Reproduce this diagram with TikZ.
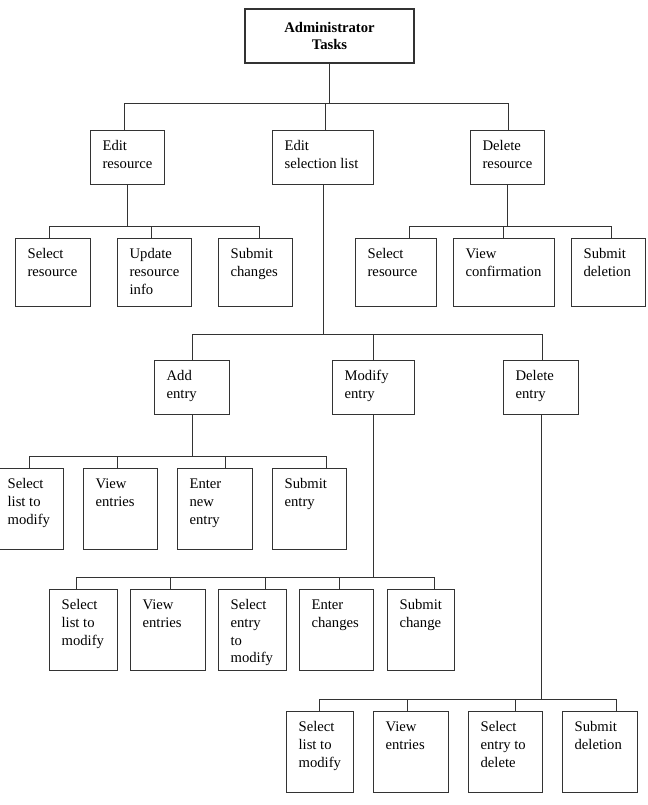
\documentclass[tikz,border=0pt]{standalone}
\usepackage{fontspec}
\setmainfont{Liberation Serif}
\usetikzlibrary{calc}

% box text: width and height in pixels, text set from the top left
\newcommand{\tasktext}[3]{\parbox[t][\dimexpr #2pt*3/4-12pt\relax][t]{\dimexpr #1pt*3/4-18pt\relax}{\raggedright\strut #3}}

\begin{document}
\begin{tikzpicture}[x=0.75pt, y=-0.75pt,
  task/.style={draw=black!80, line width=0.9pt, anchor=north west, inner xsep=9pt, inner ysep=6pt, font=\fontsize{11}{13.2}\selectfont},
  link/.style={draw=black!80, line width=0.9pt}]
  \useasboundingbox (0,0) rectangle (648,805);
  % Top
  \node[task, anchor=center, align=center, inner sep=0pt, minimum width=126.75pt, minimum height=40.5pt,
        font=\fontsize{11}{13.2}\selectfont\bfseries] (admin) at (329.5,36) {Administrator\\Tasks};
  % Level 1
  \node[task] (edres) at (90,130) {\tasktext{74}{54}{Edit\\resource}};
  \node[task] (edsel) at (272,130) {\tasktext{101}{54}{Edit\\selection list}};
  \node[task] (delres) at (470,130) {\tasktext{74}{54}{Delete\\resource}};
  % Level 2
  \node[task] (selres) at (15,238) {\tasktext{75}{68}{Select\\resource}};
  \node[task] (updres) at (117,238) {\tasktext{74}{68}{Update\\resource\\info}};
  \node[task] (subchanges) at (218,238) {\tasktext{74}{68}{Submit\\changes}};
  \node[task] (selresb) at (355,238) {\tasktext{81}{68}{Select\\resource}};
  \node[task] (viewconf) at (453,238) {\tasktext{101}{68}{View\\confirmation}};
  \node[task] (subdel) at (571,238) {\tasktext{74}{68}{Submit\\deletion}};
  % Level 3
  \node[task] (addent) at (154,360) {\tasktext{75}{54}{Add\\entry}};
  \node[task] (modent) at (332,360) {\tasktext{82}{54}{Modify\\entry}};
  \node[task] (delent) at (503,360) {\tasktext{75}{54}{Delete\\entry}};
  % Add entry steps
  \node[task] (lista) at (-5,468) {\tasktext{68}{81}{Select\\list to\\modify}};
  \node[task] (viewa) at (83,468) {\tasktext{74}{81}{View\\entries}};
  \node[task] (enternew) at (177,468) {\tasktext{75}{81}{Enter\\new\\entry}};
  \node[task] (subent) at (272,468) {\tasktext{74}{81}{Submit\\entry}};
  % Modify entry steps
  \node[task] (listb) at (49,589) {\tasktext{68}{81}{Select\\list to\\modify}};
  \node[task] (viewb) at (130,589) {\tasktext{75}{81}{View\\entries}};
  \node[task] (selentry) at (218,589) {\tasktext{68}{81}{Select\\entry\\to\\modify}};
  \node[task] (enterchg) at (299,589) {\tasktext{74}{81}{Enter\\changes}};
  \node[task] (subchange) at (387,589) {\tasktext{67}{81}{Submit\\change}};
  % Delete entry steps
  \node[task] (listc) at (286,711) {\tasktext{67}{81}{Select\\list to\\modify}};
  \node[task] (viewc) at (373,711) {\tasktext{75}{81}{View\\entries}};
  \node[task] (delentry) at (468,711) {\tasktext{74}{81}{Select\\entry to\\delete}};
  \node[task] (subdeletion) at (562,711) {\tasktext{75}{81}{Submit\\deletion}};
  % Links
  \foreach \c/\dx in {edres/-3, edsel/2.5, delres/1}
    \draw[link] (admin.south) -- ++(0,40) -| ($(\c.north)+(\dx,0)$);
  \foreach \c/\dx in {selres/-3.5, updres/-3, subchanges/4}
    \draw[link] (edres.south) -- ++(0,41) -| ($(\c.north)+(\dx,0)$);
  \foreach \c/\dx in {selresb/13.5, viewconf/-0.5, subdel/3}
    \draw[link] (delres.south) -- ++(0,41) -| ($(\c.north)+(\dx,0)$);
  \foreach \c/\dx in {addent/0, modent/0, delent/1.5}
    \draw[link] (edsel.south) -- ++(0,149) -| ($(\c.north)+(\dx,0)$);
  \foreach \c/\dx in {lista/0, viewa/-3, enternew/10.5, subent/17}
    \draw[link] (addent.south) -- ++(0,41) -| ($(\c.north)+(\dx,0)$);
  \foreach \c/\dx in {listb/-7, viewb/2.5, selentry/13, enterchg/3, subchange/13.5}
    \draw[link] (modent.south) -- ++(0,162) -| ($(\c.north)+(\dx,0)$);
  \foreach \c/\dx in {listc/-0.5, viewc/-3.5, delentry/10, subdeletion/16.5}
    \draw[link] (delent.south) -- ++(0,284) -| ($(\c.north)+(\dx,0)$);
\end{tikzpicture}
\end{document}
